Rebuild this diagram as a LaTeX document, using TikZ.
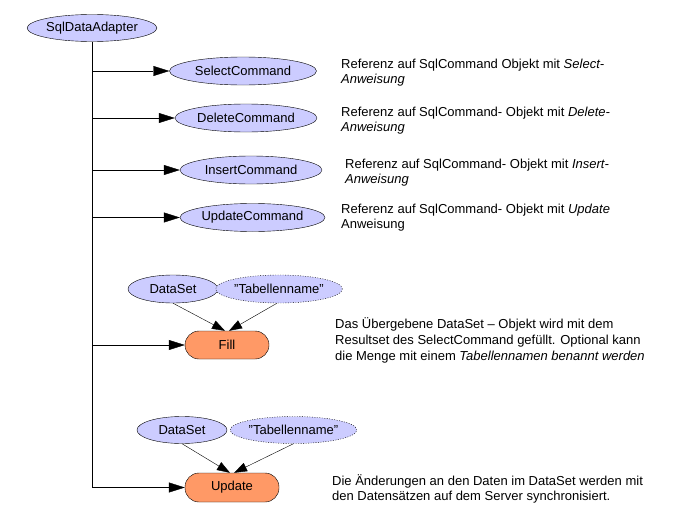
\documentclass[tikz,border=0pt]{standalone}
\usepackage{fontspec}
\setmainfont{Liberation Sans}
\usetikzlibrary{shapes.geometric, arrows.meta}
\usetikzlibrary{positioning}
\definecolor{cmdblue}{RGB}{204,204,255}
\definecolor{methodorange}{RGB}{255,153,102}
\tikzstyle{command} = [ellipse, draw=black, fill=cmdblue, inner sep=0pt, minimum height=28pt, font=\fontsize{13}{15}\selectfont]
\tikzstyle{optparam} = [command, dash pattern=on 1pt off 1.5pt]
\tikzstyle{method} = [rectangle, rounded corners=14pt, draw=black, fill=methodorange, minimum height=28pt, inner sep=0pt, font=\fontsize{13}{15}\selectfont]
\tikzstyle{note} = [anchor=base west, align=left, inner sep=0pt, font=\fontsize{13}{15}\selectfont]
\tikzstyle{local} = [-{Triangle[length=16pt,width=10pt]}]
\tikzstyle{param} = [-{Triangle[length=13pt,width=9pt]}]

\begin{document}
\begin{tikzpicture}[x=1pt,y=1pt]
      \useasboundingbox (0,0) rectangle (681,-530);
      \node (sda) [command, minimum width=128pt, minimum height=27pt] at (92,-28) {SqlDataAdapter};

      \node (sel) [command, minimum width=147pt] at (243,-71) {SelectCommand};
      \node (del) [command, minimum width=142pt] at (246,-118) {DeleteCommand};
      \node (ins) [command, minimum width=142pt] at (251,-170) {InsertCommand};
      \node (upd) [command, minimum width=145pt] at (252.5,-217.5) {UpdateCommand};

      \node (ds1) [command, minimum width=90pt] at (173,-289) {DataSet};
      \node (tn1) [optparam, minimum width=112pt] at (279,-289) {"Tabellenname"};
      \node (fill) [method, minimum width=84pt] at (227,-345) {Fill};

      \node (ds2) [command, minimum width=90pt, minimum height=27pt] at (182,-430) {DataSet};
      \node (tn2) [optparam, minimum width=113pt, minimum height=27pt] at (293.5,-430) {"Tabellenname"};
      \node (update) [method, minimum width=94pt, minimum height=29pt] at (232,-487.5) {Update};

      % notes (anchored at the baseline of their last line)
      \node (selnote) [note] at (341,-83) {Referenz auf SqlCommand Objekt mit \textit{Select-}\\\textit{Anweisung}};
      \node (delnote) [note] at (341,-131) {Referenz auf SqlCommand- Objekt mit \textit{Delete-}\\\textit{Anweisung}};
      \node (insnote) [note] at (345,-183) {Referenz auf SqlCommand- Objekt mit \textit{Insert-}\\\textit{Anweisung}};
      \node (updnote) [note] at (341,-228) {Referenz auf SqlCommand- Objekt mit \textit{Update}\\Anweisung};
      \node (fillnote) [note, font=\fontsize{13}{16}\selectfont] at (335,-360) {Das Übergebene DataSet – Objekt wird mit dem\\Resultset des SelectCommand gefüllt. Optional kann\\die Menge mit einem \textit{Tabellennamen benannt werden}};
      \node (updatenote) [note] at (332,-500) {Die Änderungen an den Daten im DataSet werden mit\\den Datensätzen auf dem Server synchronisiert.};

      % trunk
      \draw (sda) -- (sda |- update);
      \draw [local] (sda |- sel) -- (sel);
      \draw [local] (sda |- del) -- (del);
      \draw [local] (sda |- ins) -- (ins);
      \draw [local] (sda |- upd) -- (upd);
      \draw [local] (sda |- fill) -- (fill);
      \draw [local] (sda |- update) -- (update);

      % parameters
      \draw [param] (ds1.south) -- ([xshift=-2pt]fill.north);
      \draw [param] ([xshift=-2pt]tn1.south) -- ([xshift=2pt]fill.north);
      \draw [param] (ds2.south) -- ([xshift=-2pt]update.north);
      \draw [param] (tn2.south) -- ([xshift=2pt]update.north);
    \end{tikzpicture}
\end{document}
